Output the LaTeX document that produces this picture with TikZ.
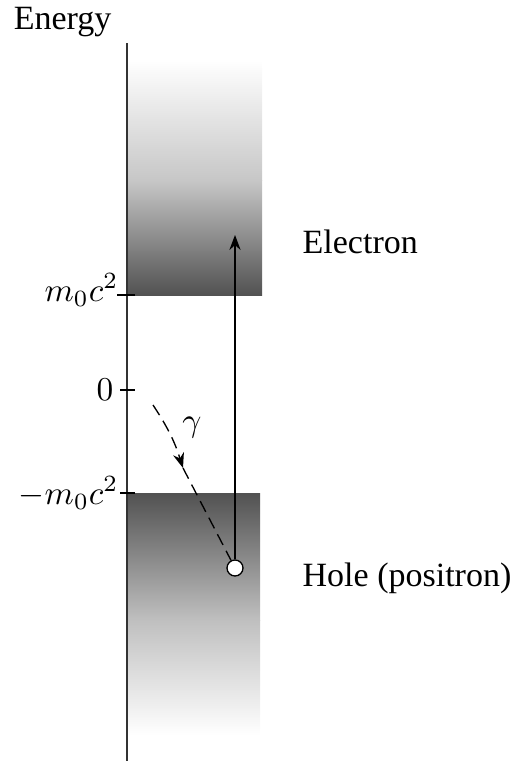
\documentclass[tikz,border=0pt]{standalone}
\usepackage{fontspec}
\setmainfont{Liberation Serif}
\usetikzlibrary{arrows.meta,positioning}

\begin{document}
\begin{tikzpicture}[x=0.3pt, y=-0.3pt,
    lbl/.style={font=\fontsize{10.2}{12}\selectfont, inner sep=0pt},
    photon/.style={dash pattern=on 3.6pt off 2pt},
    tick/.style={thin}]
    \useasboundingbox (0,0) rectangle (512,761);
    % bands
    \shade[top color=white, bottom color=black!22] (128,60) rectangle (262,180);
    \shade[top color=black!22, bottom color=black!68] (128,180) rectangle (262,295);
    \shade[top color=black!68, bottom color=black!25] (128,493) rectangle (260,620);
    \shade[top color=black!25, bottom color=white] (128,620) rectangle (260,735);
    % axis
    \coordinate (top) at (127,43);
    \coordinate (bot) at (127,761);
    \draw[thin, black!80] (top) -- (bot);
    \node[lbl, anchor=south east] (energy) at (112,38) {Energy};
    % ticks
    \draw[tick] (117,295) -- (135,295);
    \draw[tick] (120,390) -- (135,390);
    \draw[tick] (120,493) -- (135,493);
    \node[lbl, anchor=east] (mplus) at (119,290) {$m_0c^2$};
    \node[lbl, anchor=east] (zero) at (114,390) {$0$};
    \node[lbl, anchor=east] (mminus) at (119,493) {$-m_0c^2$};
    % hole and electron
    \node[draw, circle, fill=white, minimum size=16*0.3pt, inner sep=0pt] (hole) at (235,568) {};
    \coordinate (elec) at (235,235);
    \draw[-{Stealth[length=4.5pt]}] (hole) -- (elec);
    \node[lbl, anchor=west] (electron) at (302,242) {Electron};
    \node[lbl, anchor=west] (positron) at (302,578) {Hole (positron)};
    % photon
    \coordinate (gstart) at (153,405);
    \coordinate (gtip) at (183,468);
    \draw[photon, -{Stealth[length=4.5pt]}] (gstart) to[bend left=8] (gtip);
    \draw[photon] (gtip) -- (hole);
    \node[lbl] (gamma) at (192,428) {$\gamma$};
\end{tikzpicture}
\end{document}
